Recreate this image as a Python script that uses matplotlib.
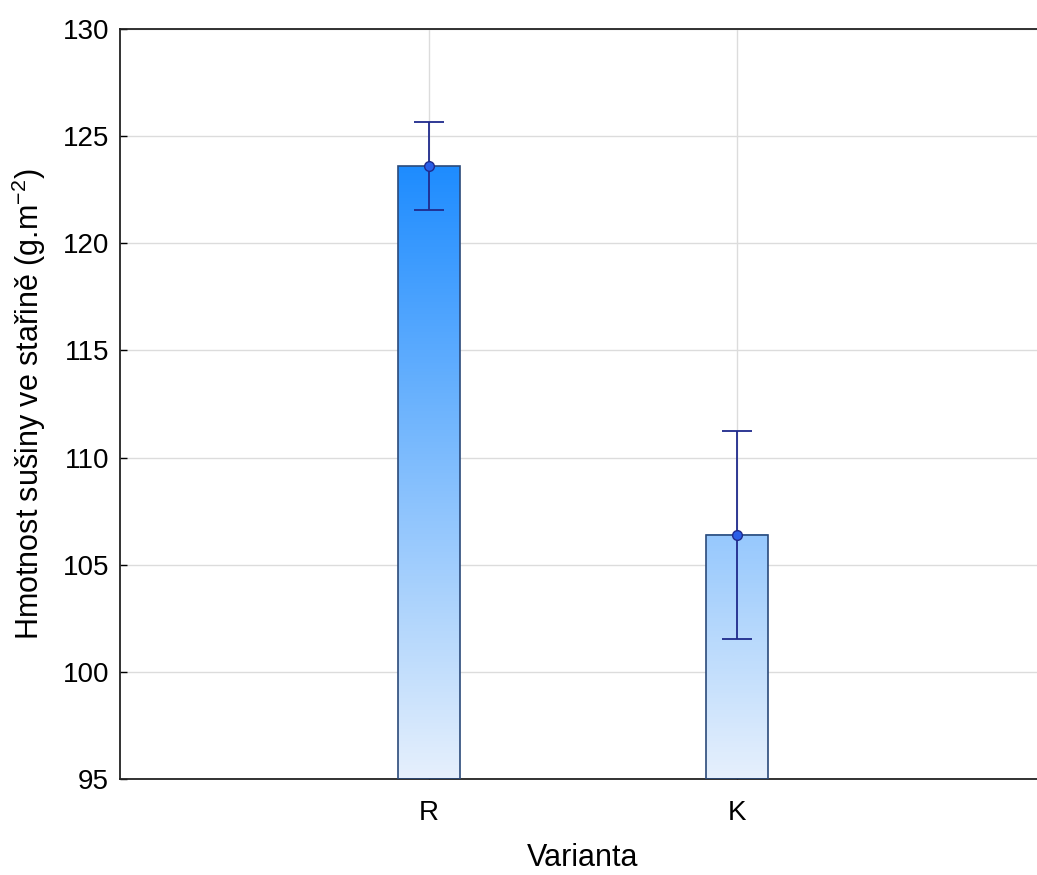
import numpy as np
import matplotlib
matplotlib.use("Agg")
from matplotlib import pyplot as plt
from matplotlib.colors import LinearSegmentedColormap, Normalize

plt.rcParams['font.family'] = ['Liberation Sans', 'DejaVu Sans']
plt.rcParams['mathtext.fontset'] = 'custom'
plt.rcParams['mathtext.rm'] = 'Liberation Sans'
plt.rcParams['mathtext.default'] = 'regular'

# data
categories = ["R", "K"]
means = [123.6, 106.4]
errors = [2.05, 4.85]
y_ticks = [95, 100, 105, 110, 115, 120, 125, 130]

fig = plt.figure(figsize=(10.37, 8.75), dpi=100)
# the right part of the plot area runs past the picture edge in the reference
ax = fig.add_axes([120 / 1037, 96 / 875, 926 / 1037, 750 / 875])

x = np.arange(1, len(categories) + 1)
ymin, ymax = 95, 130

ax.set_xticks(x)
ax.set_xticklabels(categories)
ax.set_yticks(y_ticks)

ax.grid(True, color="#dcdcdc", linewidth=1)
ax.set_axisbelow(True)

# gradient fill: colour follows the value on the y axis
cmap = LinearSegmentedColormap.from_list("grad", ["#e6f0fc", "#1e8cff"])
norm = Normalize(vmin=ymin, vmax=max(means))

bars = ax.bar(x, [m - ymin for m in means], width=0.2, bottom=ymin,
              facecolor="none", edgecolor="#2b4a7a", linewidth=1.2, zorder=3)
for b in bars:
    x0, y0 = b.get_x(), b.get_y()
    x1, y1 = x0 + b.get_width(), y0 + b.get_height()
    grad = np.linspace(y0, y1, 256).reshape(-1, 1)
    ax.imshow(grad, cmap=cmap, norm=norm, origin="lower", aspect="auto",
              extent=[x0, x1, y0, y1], zorder=2)

ax.errorbar(x, means, yerr=errors, fmt="o", color="#1f2a8c", ecolor="#1f2a8c",
            elinewidth=1.3, capsize=11, capthick=1.3, markersize=7,
            markerfacecolor="#2a5ee8", markeredgecolor="#1f2a8c", zorder=4)

# imshow resets limits
ax.set_xlim(0, len(categories) + 1)
ax.set_ylim(ymin, ymax)

for s in ax.spines.values():
    s.set_linewidth(1.3)
    s.set_color("#222222")

ax.tick_params(direction="in", length=5, width=1, labelsize=20)
ax.tick_params(axis="x", pad=15)
ax.tick_params(axis="y", pad=8)
ax.set_xlabel("Varianta", fontsize=22, labelpad=12)
ax.set_ylabel("Hmotnost sušiny ve stařině (g.m$^{-2}$)", fontsize=22, labelpad=10)

fig.savefig("out.png", dpi=100)
